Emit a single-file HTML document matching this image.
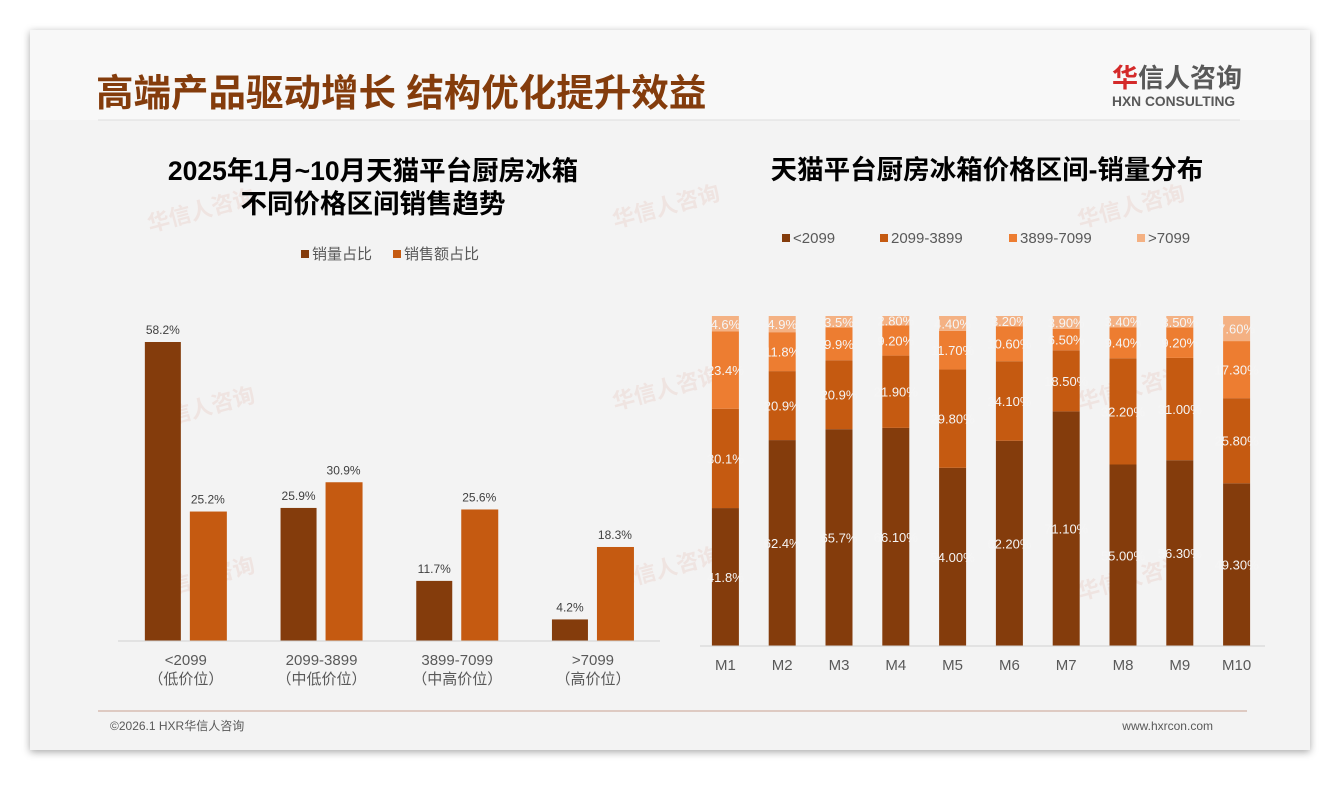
<!DOCTYPE html>
<html><head><meta charset="utf-8">
<style>
body{margin:0;background:#fff;width:1340px;height:780px;overflow:hidden;font-family:"Liberation Sans","Noto Sans CJK SC",sans-serif;}
svg text{font-family:"Liberation Sans","Noto Sans CJK SC",sans-serif;}
</style></head>
<body>
<svg id="s" width="1340" height="780" viewBox="0 0 1340 780" xmlns="http://www.w3.org/2000/svg">
<defs><filter id="sh" x="-5%" y="-5%" width="110%" height="110%"><feDropShadow dx="0" dy="2" stdDeviation="4" flood-color="#000" flood-opacity="0.35"/></filter></defs>
<rect x="30" y="30" width="1280" height="720" fill="#f3f3f3" filter="url(#sh)"/>
<rect x="30" y="30" width="1280" height="90" fill="#f8f8f8"/>
<text x="96" y="106" font-size="37.5" font-weight="bold" fill="#843C0C">高端产品驱动增长 结构优化提升效益</text>
<line x1="98" y1="120" x2="1240" y2="120" stroke="#dedede" stroke-width="1"/>
<g>
<text x="1112" y="87" font-size="26" font-weight="bold" fill="#d42a2a">华</text>
<text x="1138" y="87" font-size="26" font-weight="bold" fill="#595959">信人咨询</text>
<text x="1112" y="106" font-size="13.8" font-weight="bold" fill="#595959">HXN CONSULTING</text>
</g>
<g fill="#e8c8c0" opacity="0.35" font-weight="bold">
<text x="150" y="232" font-size="22" transform="rotate(-15 150 232)">华信人咨询</text>
<text x="615" y="228" font-size="22" transform="rotate(-15 615 228)">华信人咨询</text>
<text x="1080" y="228" font-size="22" transform="rotate(-15 1080 228)">华信人咨询</text>
<text x="150" y="430" font-size="22" transform="rotate(-15 150 430)">华信人咨询</text>
<text x="615" y="410" font-size="22" transform="rotate(-15 615 410)">华信人咨询</text>
<text x="1080" y="410" font-size="22" transform="rotate(-15 1080 410)">华信人咨询</text>
<text x="150" y="600" font-size="22" transform="rotate(-15 150 600)">华信人咨询</text>
<text x="615" y="590" font-size="22" transform="rotate(-15 615 590)">华信人咨询</text>
<text x="1080" y="600" font-size="22" transform="rotate(-15 1080 600)">华信人咨询</text>
</g>
<text x="373" y="180" font-size="26.5" font-weight="bold" fill="#000" text-anchor="middle">2025年1月~10月天猫平台厨房冰箱</text>
<text x="373" y="213" font-size="26.5" font-weight="bold" fill="#000" text-anchor="middle">不同价格区间销售趋势</text>
<g font-size="15" fill="#595959">
<rect x="301" y="250" width="8" height="8" fill="#843C0C"/><text x="312" y="259">销量占比</text>
<rect x="393" y="250" width="8" height="8" fill="#C55A11"/><text x="404" y="259">销售额占比</text>
</g>
<text x="987" y="179" font-size="26.5" font-weight="bold" fill="#000" text-anchor="middle">天猫平台厨房冰箱价格区间-销量分布</text>
<g font-size="15" fill="#595959">
<rect x="782" y="234" width="8" height="8" fill="#843C0C"/><text x="793" y="243">&lt;2099</text>
<rect x="880" y="234" width="8" height="8" fill="#C55A11"/><text x="891" y="243">2099-3899</text>
<rect x="1009" y="234" width="8" height="8" fill="#ED7D31"/><text x="1020" y="243">3899-7099</text>
<rect x="1137" y="234" width="8" height="8" fill="#F4B183"/><text x="1148" y="243">&gt;7099</text>
</g>
<g id="left"></g>
<g id="right"></g>
<line x1="98" y1="711" x2="1247" y2="711" stroke="#c8a090" stroke-width="1"/>
<text x="110" y="730" font-size="12" fill="#595959">©2026.1 HXR华信人咨询</text>
<text x="1213" y="730" font-size="12" fill="#595959" text-anchor="end">www.hxrcon.com</text>
</svg>
<script>
const leftCats=['<2099','2099-3899','3899-7099','>7099'];
const leftSub=['（低价位）','（中低价位）','（中高价位）','（高价位）'];
const volShare=[58.2,25.9,11.7,4.2];
const salesShare=[25.2,30.9,25.6,18.3];
const months=['M1','M2','M3','M4','M5','M6','M7','M8','M9','M10'];
const seg1=[41.8,62.4,65.7,66.1,54.0,62.2,71.1,55.0,56.3,49.3];
const seg2=[30.1,20.9,20.9,21.9,29.8,24.1,18.5,32.2,31.0,25.8];
const seg3=[23.4,11.8,9.9,9.2,11.7,10.6,6.5,9.4,9.2,17.3];
const seg4=[4.6,4.9,3.5,2.8,4.4,3.2,3.9,3.4,3.5,7.6];
const seg1Lab=['41.8%','62.4%','65.7%','66.10%','54.00%','62.20%','71.10%','55.00%','56.30%','49.30%'];
const seg2Lab=['30.1%','20.9%','20.9%','21.90%','29.80%','24.10%','18.50%','32.20%','31.00%','25.80%'];
const seg3Lab=['23.4%','11.8%','9.9%','9.20%','11.70%','10.60%','6.50%','9.40%','9.20%','17.30%'];
const seg4Lab=['4.6%','4.9%','3.5%','2.80%','4.40%','3.20%','3.90%','3.40%','3.50%','7.60%'];
const NS='http://www.w3.org/2000/svg';
function mk(p,tag,attrs,txt){const e=document.createElementNS(NS,tag);for(const k in attrs)e.setAttribute(k,attrs[k]);if(txt!=null)e.textContent=txt;p.appendChild(e);return e;}
const L=document.getElementById('left');
const lBase=641,lScale=299/58.2,lX0=118,lStep=135.7;
const lx=i=>lX0+lStep*(i+0.5), ly=v=>lBase-v*lScale;
volShare.forEach((v,i)=>{
 const b=mk(L,'rect',{x:lx(i)-41,y:ly(v),width:36,height:lBase-ly(v),fill:'#843C0C'});
 
 
 const t=mk(L,'text',{x:lx(i)-23,y:ly(v)-8,'font-size':12,fill:'#404040','text-anchor':'middle'},v.toFixed(1)+'%');
 
 
});
salesShare.forEach((v,i)=>{
 const b=mk(L,'rect',{x:lx(i)+4,y:ly(v),width:37,height:lBase-ly(v),fill:'#C55A11'});
 
 
 const t=mk(L,'text',{x:lx(i)+22,y:ly(v)-8,'font-size':12,fill:'#404040','text-anchor':'middle'},v.toFixed(1)+'%');
 
 
});
const la=mk(L,'line',{x1:118,y1:lBase,x2:660,y2:lBase,stroke:'#d0d0d0'});


leftCats.forEach((c,i)=>{
 const t=mk(L,'text',{x:lx(i),y:665,'font-size':15,fill:'#595959','text-anchor':'middle'},c);
 
 
 const s=mk(L,'text',{x:lx(i),y:684,'font-size':15,fill:'#595959','text-anchor':'middle'},leftSub[i]);
 
 
});
const R=document.getElementById('right');
const rBase=646,rScale=330/100,rX0=697,rStep=56.8;
const rx=i=>rX0+rStep*(i+0.5);
const segs=[seg1,seg2,seg3,seg4],labs=[seg1Lab,seg2Lab,seg3Lab,seg4Lab];
const cols=['#843C0C','#C55A11','#ED7D31','#F4B183'];
months.forEach((m,i)=>{
 let acc=0;
 segs.forEach((sg,k)=>{
  const v=sg[i];
  const y0=rBase-acc*rScale;
  let h=v*rScale;
  if(k===3){h=y0-316;}
  const b=mk(R,'rect',{x:rx(i)-13.5,y:y0-h,width:27,height:h,fill:cols[k]});
  
  
  const t=mk(R,'text',{x:rx(i),y:y0-h/2+5,'font-size':13,fill:'#f5f5f5','text-anchor':'middle'},labs[k][i]);
  
  
  acc+=v;
 });
 const t=mk(R,'text',{x:rx(i),y:670,'font-size':15,fill:'#595959','text-anchor':'middle'},m);
 
 
});
const ra=mk(R,'line',{x1:700,y1:rBase,x2:1265,y2:rBase,stroke:'#d0d0d0'});


</script>
</body></html>
